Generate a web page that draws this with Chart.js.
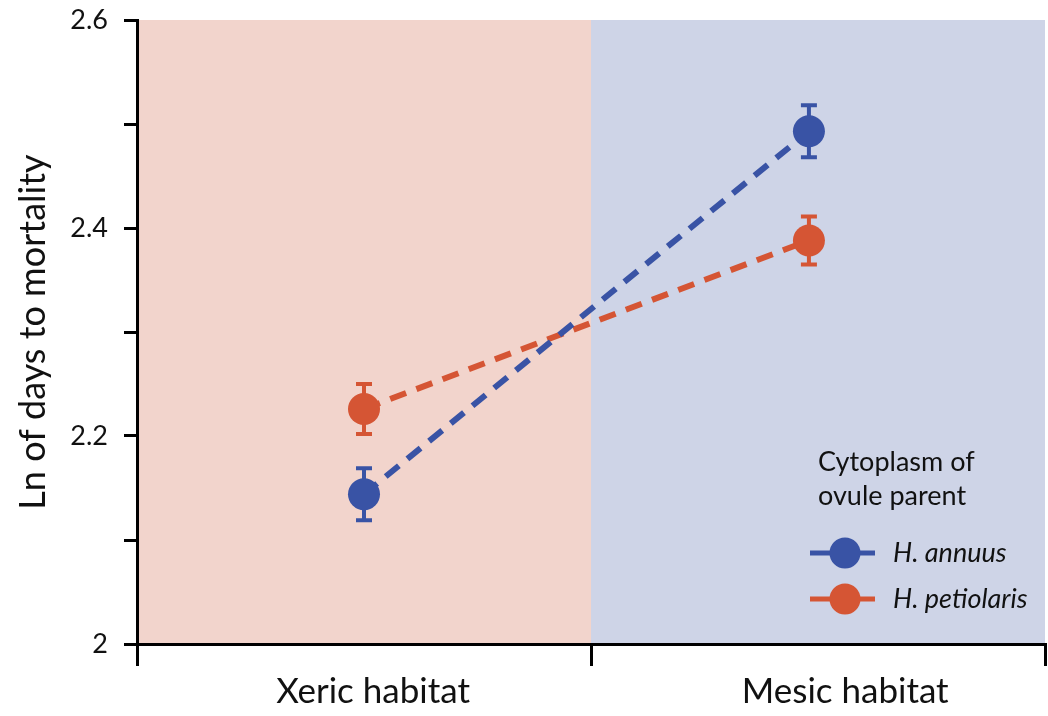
<!DOCTYPE html>
<html>
<head>
<meta charset="utf-8">
<script src="https://cdn.jsdelivr.net/npm/chart.js@4/dist/chart.umd.min.js"></script>
<style>
  html, body { margin: 0; padding: 0; background: #fff; overflow: hidden; }
  canvas { display: block; }
</style>
</head>
<body>
<canvas id="myChart" width="1048" height="716"></canvas>
<script>
// habitats (x position in plot units, 0..1 = xeric half, 1..2 = mesic half)
const habitats = ['Xeric habitat', 'Mesic habitat'];
const habitatX = [0.5, 1.48];
const habitatLabelX = [0.52, 1.56];

// ln of days to mortality, means and standard errors
const annuusMean = [2.144, 2.493];
const annuusErr = [0.025, 0.025];
const petiolarisMean = [2.226, 2.388];
const petiolarisErr = [0.024, 0.023];

const yTicks = [2, 2.1, 2.2, 2.3, 2.4, 2.5, 2.6];

const blue = '#3953a5';
const orange = '#d55534';
const font = 'Lato';

// shaded habitat halves
const bgPlugin = {
    id: 'habitatBg',
    beforeDraw(chart) {
        const { ctx, chartArea, scales } = chart;
        const mid = scales.x.getPixelForValue(1);
        ctx.save();
        ctx.fillStyle = '#f2d4cc';
        ctx.fillRect(chartArea.left, chartArea.top, mid - chartArea.left, chartArea.bottom - chartArea.top);
        ctx.fillStyle = '#ced4e7';
        ctx.fillRect(mid, chartArea.top, chartArea.right - mid, chartArea.bottom - chartArea.top);
        ctx.restore();
    }
};

// error bars behind the points
const errPlugin = {
    id: 'errBars',
    beforeDatasetsDraw(chart) {
        const { ctx, scales } = chart;
        ctx.save();
        chart.data.datasets.forEach(ds => {
            ctx.strokeStyle = ds.borderColor;
            ctx.lineWidth = 4;
            ds.data.forEach((p, i) => {
                const x = scales.x.getPixelForValue(p.x);
                const y1 = scales.y.getPixelForValue(p.y + ds.err[i]);
                const y2 = scales.y.getPixelForValue(p.y - ds.err[i]);
                ctx.beginPath();
                ctx.moveTo(x, y1); ctx.lineTo(x, y2);
                ctx.moveTo(x - 8, y1); ctx.lineTo(x + 8, y1);
                ctx.moveTo(x - 8, y2); ctx.lineTo(x + 8, y2);
                ctx.stroke();
            });
        });
        ctx.restore();
    }
};

// legend in the lower right corner
const legendPlugin = {
    id: 'cornerLegend',
    afterDraw(chart) {
        const ctx = chart.ctx;
        ctx.save();
        ctx.fillStyle = '#111';
        ctx.textBaseline = 'alphabetic';
        ctx.textAlign = 'left';
        ctx.font = '27px ' + font;
        ctx.fillText('Cytoplasm of', 818, 471);
        ctx.fillText('ovule parent', 818, 505);
        chart.data.datasets.forEach((ds, i) => {
            const y = 553 + i * 46;
            ctx.strokeStyle = ds.borderColor;
            ctx.lineWidth = 5;
            ctx.beginPath();
            ctx.moveTo(810, y); ctx.lineTo(875, y);
            ctx.stroke();
            ctx.fillStyle = ds.borderColor;
            ctx.beginPath();
            ctx.arc(845, y, 15.5, 0, Math.PI * 2);
            ctx.fill();
            ctx.fillStyle = '#111';
            ctx.textBaseline = 'middle';
            ctx.font = 'italic 27px ' + font;
            ctx.fillText(ds.label, 893, y);
        });
        ctx.restore();
    }
};

// drop the extra room Chart.js reserves for overflowing labels
function noPad(scale) {
    scale.paddingTop = 0;
    scale.paddingBottom = 0;
    scale.paddingLeft = 0;
    scale.paddingRight = 0;
}

function series(label, means, errs, color) {
    return {
        label: label,
        data: means.map((v, i) => ({ x: habitatX[i], y: v })),
        err: errs,
        borderColor: color,
        backgroundColor: color,
        borderWidth: 6,
        borderDash: [17, 11],
        pointRadius: 16,
        pointHoverRadius: 16,
        pointBorderWidth: 0,
        pointBackgroundColor: color,
        showLine: true,
        tension: 0
    };
}

var ctx = document.getElementById('myChart').getContext('2d');
var myChart = new Chart(ctx, {
    type: 'scatter',
    data: {
        datasets: [
            series('H. annuus', annuusMean, annuusErr, blue),
            series('H. petiolaris', petiolarisMean, petiolarisErr, orange),
        ]
    },
    options: {
        responsive: false,
        animation: false,
        layout: { autoPadding: false, padding: { top: 20, right: 3, left: 0, bottom: 0 } },
        plugins: {
            legend: { display: false },
            tooltip: { enabled: false },
        },
        scales: {
            x: {
                type: 'linear',
                min: 0,
                max: 2,
                afterBuildTicks: scale => {
                    scale.ticks = [0, habitatLabelX[0], 1, habitatLabelX[1], 2].map(v => ({ value: v }));
                },
                afterFit: scale => { scale.height = 72; noPad(scale); },
                border: { display: true, color: '#000', width: 3 },
                grid: {
                    drawOnChartArea: false,
                    drawTicks: true,
                    tickLength: 22,
                    lineWidth: 3,
                    color: c => Number.isInteger(c.tick.value) ? '#000' : 'rgba(0,0,0,0)',
                },
                ticks: {
                    autoSkip: false,
                    maxRotation: 0,
                    padding: 5,
                    color: '#111',
                    font: { family: font, size: 35 },
                    callback: v => v === habitatLabelX[0] ? habitats[0] : (v === habitatLabelX[1] ? habitats[1] : ''),
                }
            },
            y: {
                min: 2,
                max: 2.6,
                afterBuildTicks: scale => {
                    scale.ticks = yTicks.map(v => ({ value: v }));
                },
                afterFit: scale => { scale.width = 137; noPad(scale); },
                border: { display: true, color: '#000', width: 3 },
                grid: {
                    drawOnChartArea: false,
                    drawTicks: true,
                    tickLength: 13,
                    lineWidth: 3,
                    color: '#000',
                },
                ticks: {
                    padding: 16,
                    color: '#111',
                    font: { family: font, size: 27 },
                    callback: v => {
                        const k = Math.round(v * 10);
                        if (k % 2 !== 0) return '';
                        return k === 20 ? '2' : (k / 10).toFixed(1);
                    }
                },
                title: {
                    display: true,
                    text: 'Ln of days to mortality',
                    color: '#111',
                    font: { family: font, size: 36 },
                    padding: { top: 12, bottom: 0 }
                }
            }
        }
    },
    plugins: [bgPlugin, errPlugin, legendPlugin]
});
</script>
</body>
</html>
